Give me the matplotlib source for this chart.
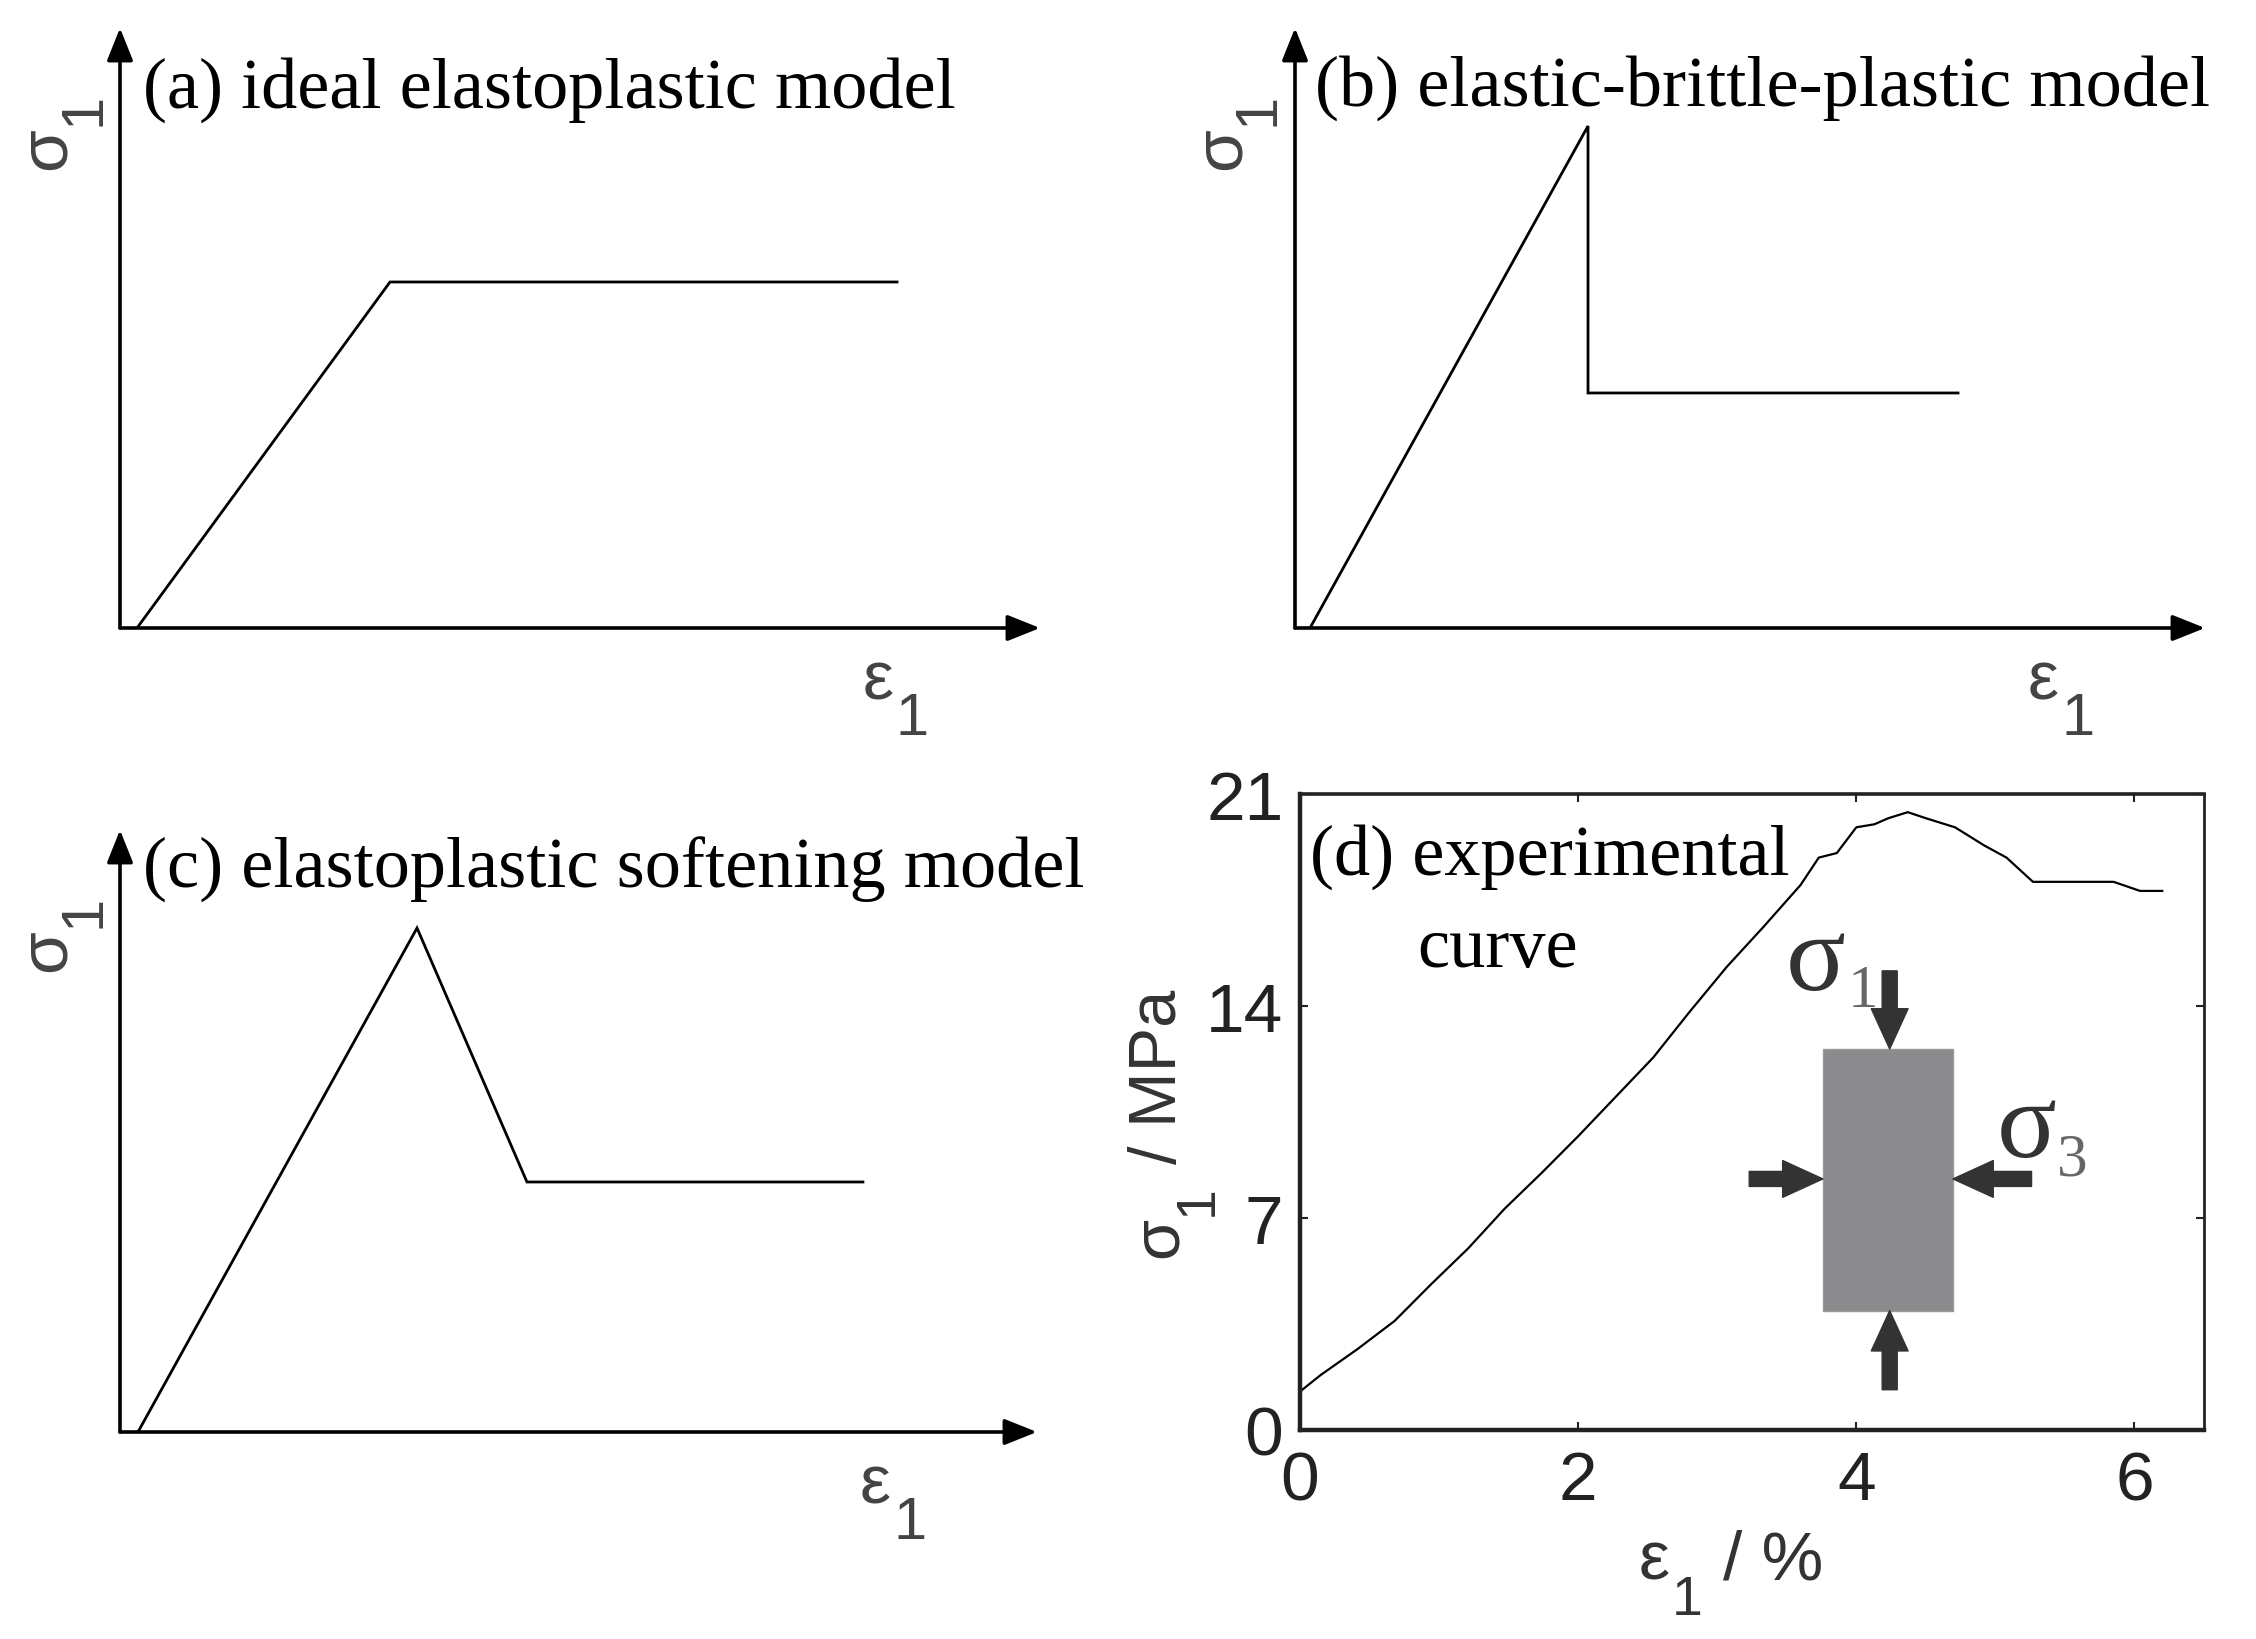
import matplotlib
matplotlib.use('Agg')
import matplotlib.pyplot as plt
from matplotlib.patches import Rectangle

plt.rcParams['font.family'] = ['Liberation Sans', 'DejaVu Sans']

# schematic models (arbitrary units, 0..1 of the arrow axes)
a_strain = [0.0185, 0.2935, 0.8446]
a_stress = [0.0, 0.5767, 0.5767]
b_strain = [0.0165, 0.322, 0.322, 0.7286]
b_stress = [0.0, 0.8367, 0.3917, 0.3917]
c_strain = [0.0196, 0.3239, 0.4438, 0.8102]
c_stress = [0.0, 0.8372, 0.4153, 0.4153]

# experimental curve, strain in %, stress in MPa
d_strain = [0.0, 0.15, 0.41, 0.68, 0.94, 1.21, 1.47, 1.74, 2.0, 2.27, 2.54, 2.8, 3.07,
            3.33, 3.6, 3.73, 3.86, 4.0, 4.13, 4.23, 4.37, 4.5, 4.71, 4.92, 5.08, 5.27,
            5.45, 5.85, 6.04, 6.2]
d_stress = [1.27, 1.82, 2.66, 3.6, 4.8, 6.0, 7.3, 8.5, 9.7, 11.0, 12.3, 13.8, 15.3,
            16.6, 18.0, 18.9, 19.05, 19.9, 20.0, 20.2, 20.4, 20.2, 19.9, 19.3, 18.9, 18.1,
            18.1, 18.1, 17.8, 17.8]
d_xticks = [0, 2, 4, 6]
d_yticks = [0, 7, 14, 21]

titles = ['(a) ideal elastoplastic model', '(b) elastic-brittle-plastic model',
          '(c) elastoplastic softening model']

W, H = 2256, 1640


def fx(x):
    return x / W


def fy(y):
    return 1 - y / H


fig = plt.figure(figsize=(W / 100, H / 100), dpi=100)

LAB = '#444444'
SERIF = 'Liberation Serif'
TSIZE = 52


def schematic(left, right, top, bottom, xs, ys, title, tx, ty):
    ax = fig.add_axes([fx(left), fy(bottom), (right - left) / W, (bottom - top) / H])
    ax.set_xlim(0, 1)
    ax.set_ylim(0, 1)
    ax.axis('off')
    arw = dict(arrowstyle='-|>,head_length=0.5,head_width=0.2', lw=2.6, color='black',
               shrinkA=0, shrinkB=0, mutation_scale=40)
    ax.annotate('', xy=(1, 0), xytext=(0, 0), xycoords='axes fraction', arrowprops=arw)
    ax.annotate('', xy=(0, 1), xytext=(0, 0), xycoords='axes fraction', arrowprops=arw)
    ax.plot(xs, ys, color='black', lw=2.0, solid_joinstyle='miter')
    fig.text(fx(tx), fy(ty), title, family=SERIF, fontsize=TSIZE, color='black',
             ha='left', va='baseline')
    # sigma_1 label (rotated)
    fig.text(fx(left - 55), fy(top + 141), 'σ', fontsize=50, color=LAB, rotation=90,
             rotation_mode='anchor', ha='left', va='baseline')
    fig.text(fx(left - 21), fy(top + 97), '1', fontsize=43, color=LAB, rotation=90,
             rotation_mode='anchor', ha='left', va='baseline')
    # epsilon_1 label
    ex = right - 177
    fig.text(fx(ex), fy(bottom + 71), 'ε', fontsize=50, color=LAB, ha='left', va='baseline')
    fig.text(fx(ex + 33), fy(bottom + 106), '1', fontsize=43, color=LAB, ha='left', va='baseline')
    return ax


schematic(120, 1040, 29, 629, a_strain, a_stress, titles[0], 143, 108)
schematic(1295, 2205, 29, 629, b_strain, b_stress, titles[1], 1315, 106)
schematic(120, 1037, 831, 1433, c_strain, c_stress, titles[2], 143, 888)

# (d) experimental curve
L, R, T, B = 1300, 2204, 795, 1431
ax = fig.add_axes([fx(L), fy(B), (R - L) / W, (B - T) / H])
ax.plot(d_strain, d_stress, color='black', lw=1.6)
ax.set_xlim(0, 6.5)
ax.set_ylim(0, 21)
ax.set_xticks(d_xticks)
ax.set_yticks(d_yticks)
ax.tick_params(direction='in', length=6, width=1.5, top=True, right=True,
               labelsize=50, colors='#222222', pad=12)
ax.tick_params(axis='x', pad=14)
for side, w in [('left', 3.2), ('bottom', 3.2), ('top', 2.6), ('right', 2.0)]:
    ax.spines[side].set_linewidth(w)
    ax.spines[side].set_color('#222222')

ax.text(0.07, 18.36, '(d) experimental', family=SERIF, fontsize=TSIZE, color='black',
        ha='left', va='baseline')
ax.text(0.84, 15.32, 'curve', family=SERIF, fontsize=TSIZE, color='black',
        ha='left', va='baseline')

# specimen sketch
ax.add_patch(Rectangle((3.76, 3.94), 0.935, 8.64, facecolor='#8b8b8d',
                       edgecolor='#9a9a9a', lw=1.0, zorder=3))
sarw = dict(arrowstyle='simple,head_length=0.58,head_width=0.53,tail_width=0.216',
            color='#333333', shrinkA=0, shrinkB=0, mutation_scale=50)
ax.annotate('', xy=(4.24, 12.58), xytext=(4.24, 15.16), arrowprops=sarw, zorder=4)
ax.annotate('', xy=(4.24, 3.94), xytext=(4.24, 1.33), arrowprops=sarw, zorder=4)
ax.annotate('', xy=(3.76, 8.29), xytext=(3.23, 8.29), arrowprops=sarw, zorder=4)
ax.annotate('', xy=(4.695, 8.29), xytext=(5.26, 8.29), arrowprops=sarw, zorder=4)
ax.text(3.49, 14.56, 'σ', family=SERIF, fontsize=80, color='#333333', ha='left', va='baseline')
ax.text(3.94, 14.0, '1', family=SERIF, fontsize=44, color='#666666', ha='left', va='baseline')
ax.text(5.01, 9.05, 'σ', family=SERIF, fontsize=80, color='#333333', ha='left', va='baseline')
ax.text(5.44, 8.45, '3', family=SERIF, fontsize=44, color='#666666', ha='left', va='baseline')

# axis labels of (d)
fig.text(fx(1639), fy(1580), 'ε', fontsize=50, color='#333333', ha='left', va='baseline')
fig.text(fx(1672), fy(1615), '1', fontsize=40, color='#333333', ha='left', va='baseline')
fig.text(fx(1723), fy(1580), '/ %', fontsize=50, color='#333333', ha='left', va='baseline')
fig.text(fx(1177), fy(1258), 'σ', fontsize=48, color='#333333', rotation=90,
         rotation_mode='anchor', ha='left', va='baseline')
fig.text(fx(1212), fy(1216), '1', fontsize=40, color='#333333', rotation=90,
         rotation_mode='anchor', ha='left', va='baseline')
fig.text(fx(1176), fy(1164), '/ MPa', fontsize=48, color='#333333', rotation=90,
         rotation_mode='anchor', ha='left', va='baseline')

fig.savefig('out.png', dpi=100)
